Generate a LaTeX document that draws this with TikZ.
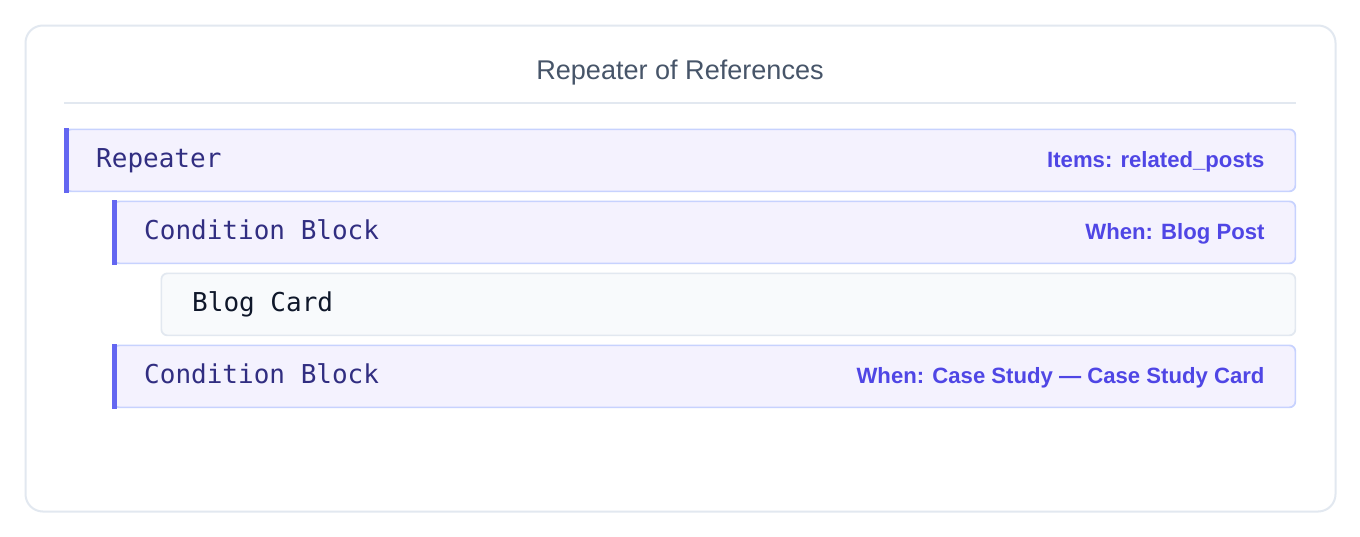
\documentclass[tikz,border=0pt]{standalone}
\usepackage{fontspec}
\setmainfont{Liberation Sans}
\newfontfamily\blockmono{DejaVu Sans Mono}
\usetikzlibrary{positioning}

\definecolor{frameLine}{HTML}{E2E8F0}
\definecolor{titleText}{HTML}{475569}
\definecolor{barFill}{HTML}{F4F2FE}
\definecolor{barLine}{HTML}{C7D2FE}
\definecolor{barAccent}{HTML}{6366F1}
\definecolor{barText}{HTML}{312E81}
\definecolor{barNote}{HTML}{4F46E5}
\definecolor{cardFill}{HTML}{F8FAFC}
\definecolor{cardText}{HTML}{0F172A}

\begin{document}
\begin{tikzpicture}[
	x=0.75pt, y=-0.75pt,
	blockbar/.style={% lavender bars with an accent on the left
		rectangle,
		rounded corners=4.5pt,
		draw=barLine,
		fill=barFill,
		line width=1.3pt,
		anchor=north west,
		inner sep=0pt,
		minimum height=46.5pt
	},
	cardbar/.style={
		blockbar,
		draw=frameLine,
		fill=cardFill
	},
	blockname/.style={
		font=\blockmono\fontsize{19.5}{22}\selectfont,
		text=barText,
		anchor=base west,
		inner sep=0pt
	},
	blocknote/.style={
		font=\bfseries\fontsize{16.6}{19}\selectfont,
		text=barNote,
		anchor=base east,
		inner sep=0pt
	},
]
	% page and frame
	\fill[white] (0,0) rectangle (1360,536);
	\node [rectangle, rounded corners=13pt, draw=frameLine, line width=1.5pt, fill=white,
		anchor=north west, inner sep=0pt, minimum width=982.5pt, minimum height=364.5pt] (frame) at (24.5,24.5) {};

	\node [font=\fontsize{20.3}{24}\selectfont, text=titleText] (title) at (680,73) {Repeater of References};
	\draw [frameLine, line width=1pt] (64,103) -- (1296,103);

	% blocks
	\node [blockbar, minimum width=922.5pt] (repeater) at (64.5,128.5) {};
	\node [blockbar, minimum width=886.5pt] (cond1) at (112.5,200.5) {};
	\node [cardbar, minimum width=850.5pt] (card) at (160.5,272.5) {};
	\node [blockbar, minimum width=886.5pt] (cond2) at (112.5,344.5) {};

	% accents
	\foreach \b in {repeater,cond1,cond2}{
		\fill [barAccent] ([xshift=-0.65pt,yshift=0.65pt]\b.north west) rectangle ([xshift=3.6pt,yshift=-0.65pt]\b.south west);
	}

	% texts
	\node [blockname] (repeaterName) at ([shift={(23.6pt,-29.6pt)}]repeater.north west) {Repeater};
	\node [blocknote] (repeaterNote) at ([shift={(-23.6pt,-29.6pt)}]repeater.north east) {Items: related\_posts};

	\node [blockname] (cond1Name) at ([shift={(23.6pt,-29.6pt)}]cond1.north west) {Condition Block};
	\node [blocknote] (cond1Note) at ([shift={(-23.6pt,-29.6pt)}]cond1.north east) {When: Blog Post};

	\node [blockname, text=cardText] (cardName) at ([shift={(23.6pt,-29.6pt)}]card.north west) {Blog Card};

	\node [blockname] (cond2Name) at ([shift={(23.6pt,-29.6pt)}]cond2.north west) {Condition Block};
	\node [blocknote] (cond2Note) at ([shift={(-23.6pt,-29.6pt)}]cond2.north east) {When: Case Study — Case Study Card};
\end{tikzpicture}
\end{document}
